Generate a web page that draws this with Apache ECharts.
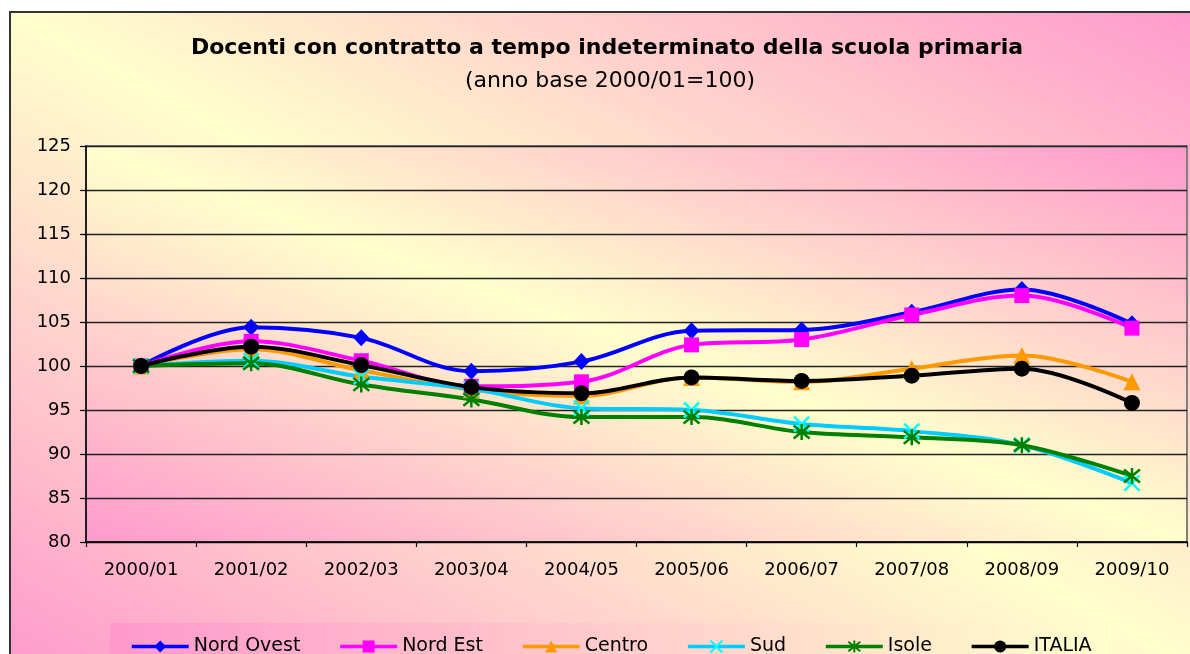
<!DOCTYPE html>
<html>
<head>
<meta charset="utf-8">
<title>Docenti scuola primaria</title>
<script src="https://cdn.jsdelivr.net/npm/echarts@6/dist/echarts.min.js"></script>
<style>
  html, body { margin: 0; padding: 0; background: #fff; }
  #chart { width: 1190px; height: 654px; }
</style>
</head>
<body>
<div id="chart"></div>
<script>
// anni scolastici
const categories = ['2000/01', '2001/02', '2002/03', '2003/04', '2004/05', '2005/06', '2006/07', '2007/08', '2008/09', '2009/10']
// numeri indice (2000/01 = 100)
const nordOvest = [100, 104.4, 103.2, 99.4, 100.5, 104.0, 104.1, 106.1, 108.7, 104.8]
const nordEst = [100, 102.8, 100.6, 97.7, 98.2, 102.4, 103.0, 105.8, 108.0, 104.3]
const centro = [100, 101.9, 99.5, 97.3, 96.6, 98.7, 98.2, 99.7, 101.2, 98.2]
const sud = [100, 100.6, 98.8, 97.4, 95.2, 95.0, 93.4, 92.6, 91.0, 86.7]
const isole = [100, 100.3, 97.9, 96.2, 94.2, 94.2, 92.5, 91.9, 91.0, 87.5]
const italia = [100, 102.2, 100.1, 97.6, 96.9, 98.7, 98.3, 98.9, 99.7, 95.8]
const yTicks = { min: 80, max: 125, interval: 5 }

const PINK = '#FF99CC'
const YELLOW = '#FFFFCC'
const FONT = 'DejaVu Sans'

// gradiente diagonale: rosa negli angoli in basso a sx e in alto a dx
function diagGradient (w, h) {
  const k = h * h / (h * h + w * w)
  const m = w * w / (h * h + w * w)
  return new echarts.graphic.LinearGradient(0.5 - k, 0.5 + m, 0.5 + k, 0.5 - m, [
    { offset: 0, color: PINK },
    { offset: 0.5, color: YELLOW },
    { offset: 1, color: PINK }
  ])
}

const crossPath = 'path://M0,0L10,10M10,0L0,10'
const starPath = 'path://M5,0L5,10M1,1L9,9M9,1L1,9'

function makeSeries (name, data, lineColor, markColor, symbol, size, extra) {
  return Object.assign({
    name: name,
    type: 'line',
    data: data,
    smooth: 0.35,
    symbol: symbol,
    symbolSize: size,
    lineStyle: { color: lineColor, width: 4 },
    itemStyle: { color: markColor },
    emphasis: { disabled: true }
  }, extra || {})
}

const chart = echarts.init(document.getElementById('chart'))
const option = {
  backgroundColor: '#fff',
  animation: false,
  graphic: [{
    type: 'rect',
    z: -10,
    zlevel: 0,
    shape: { x: 10, y: 12, width: 1195, height: 660 },
    style: { fill: diagGradient(1195, 660), stroke: '#333', lineWidth: 2 }
  }],
  title: [
    {
      text: 'Docenti con contratto a tempo indeterminato della scuola primaria',
      left: 607,
      top: 37,
      padding: 0,
      textAlign: 'center',
      textStyle: { fontFamily: FONT, fontSize: 22, fontWeight: 'bold', color: '#000' }
    },
    {
      text: '(anno base 2000/01=100)',
      left: 610,
      top: 70,
      padding: 0,
      textAlign: 'center',
      textStyle: { fontFamily: FONT, fontSize: 22, fontWeight: 'normal', color: '#000' }
    }
  ],
  legend: {
    left: 110,
    top: 623,
    padding: [14, 20, 12, 20],
    itemWidth: 57,
    itemHeight: 15,
    itemGap: 38,
    lineStyle: { width: 3.5 },
    backgroundColor: new echarts.graphic.LinearGradient(0, 0, 1, 0, [
      { offset: 0, color: PINK },
      { offset: 1, color: YELLOW }
    ]),
    textStyle: { fontFamily: FONT, fontSize: 19, color: '#000' },
    data: ['Nord Ovest', 'Nord Est', 'Centro', 'Sud', 'Isole', 'ITALIA']
  },
  grid: {
    left: 86,
    top: 146,
    right: 3,
    bottom: 112,
    show: true,
    backgroundColor: diagGradient(1101, 396),
    borderColor: '#808080',
    borderWidth: 2
  },
  xAxis: {
    type: 'category',
    data: categories,
    boundaryGap: true,
    axisLine: { lineStyle: { color: '#000', width: 1.5 } },
    axisTick: { show: true, length: 5, alignWithLabel: false, lineStyle: { color: '#000', width: 1.2 } },
    axisLabel: { fontFamily: FONT, fontSize: 18, color: '#000', margin: 19, interval: 0 },
    splitLine: { show: false }
  },
  yAxis: {
    type: 'value',
    min: yTicks.min,
    max: yTicks.max,
    interval: yTicks.interval,
    axisLine: { show: true, lineStyle: { color: '#000', width: 1.5 } },
    axisTick: { show: true, length: 6, lineStyle: { color: '#000', width: 1.2 } },
    axisLabel: { fontFamily: FONT, fontSize: 18, color: '#000', margin: 15 },
    splitLine: { show: true, lineStyle: { color: '#222', width: 1.3 } }
  },
  series: [
    makeSeries('Nord Ovest', nordOvest, '#0000FF', '#0000FF', 'diamond', [16, 17]),
    makeSeries('Nord Est', nordEst, '#FF00FF', '#FF00FF', 'rect', 15),
    makeSeries('Centro', centro, '#FF9900', '#FF9900', 'triangle', 17),
    makeSeries('Sud', sud, '#00CCFF', '#00FFFF', crossPath, 15, {
      itemStyle: { color: '#00FFFF', borderColor: '#00FFFF', borderWidth: 2.5 }
    }),
    makeSeries('Isole', isole, '#008000', '#008000', starPath, 16, {
      itemStyle: { color: '#008000', borderColor: '#008000', borderWidth: 2.5 }
    }),
    makeSeries('ITALIA', italia, '#000000', '#000000', 'circle', 16)
  ]
}
chart.setOption(option)
</script>
</body>
</html>
